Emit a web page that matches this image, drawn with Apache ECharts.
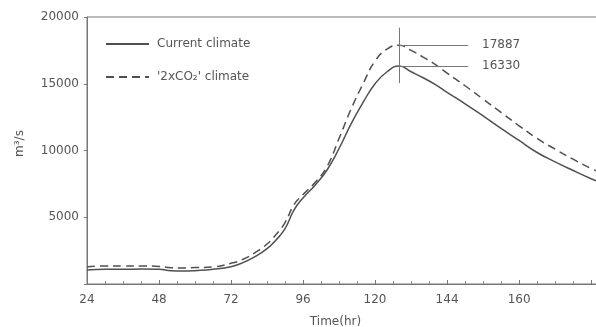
<!DOCTYPE html>
<html>
<head>
<meta charset="utf-8">
<script src="https://cdn.jsdelivr.net/npm/echarts@6/dist/echarts.min.js"></script>
<style>html,body{margin:0;padding:0;background:#fff;}#c{width:596px;height:327px;}</style>
</head>
<body>
<div id="c"></div>
<script>
var hours = [24,30,36,42,48,52,56,60,66,72,76,80,84,87,90,93,96,100,104,108,112,116,120,124,128,132,136,140,144,150,156,162,168,174,180,186,192,194];
var currentClimate = [1050,1100,1100,1120,1100,1000,970,1000,1100,1300,1600,2050,2650,3300,4150,5550,6450,7400,8540,10150,12000,13600,15000,15900,16330,15900,15450,14950,14350,13500,12600,11650,10750,9850,9150,8500,7880,7700];
var doubledCO2 = [1280,1350,1350,1350,1320,1220,1200,1230,1280,1550,1850,2350,3000,3700,4600,5950,6700,7600,8800,10900,13100,15000,16700,17600,17887,17500,17000,16450,15800,14850,13850,12850,11850,10900,10100,9350,8650,8450];
var seriesNames = ['Current climate', "'2xCO\u2082' climate"];
var xTickValues = [24,48,72,96,120,144,168];
var xTickLabels = ['24','48','72','96','120','144','160'];
var yTickValues = [5000,10000,15000,20000];
var peakHour = 128;
var peakCurrent = 16330;
var peakDoubled = 17887;
var annotEndHour = 151;
var annotTop = 19200, annotBottom = 15050;

function pairs(xs, ys){ return xs.map(function(x,i){ return [x, ys[i]]; }); }

var ink = '#505050';
var txt = '#555';
var font = 'DejaVu Sans';

var chart = echarts.init(document.getElementById('c'), null, {renderer:'canvas'});
chart.setOption({
  backgroundColor: '#fff',
  animation: false,
  grid: {left: 87, right: -2, top: 17, bottom: 43, containLabel: false, outerBoundsMode: 'none',
    show: true, borderColor: '#777', borderWidth: 1, backgroundColor: 'transparent'},
  legend: {
    orient: 'vertical', left: 100, top: 33, itemWidth: 43, itemHeight: 12, itemGap: 21,
    itemStyle: {opacity: 0},
    textStyle: {color: txt, fontFamily: font, fontSize: 12, padding: [0,0,0,3]},
    data: seriesNames
  },
  xAxis: {
    type: 'value', min: 24, max: 194.3, interval: 24,
    name: 'Time(hr)', nameLocation: 'middle', nameGap: 32,
    nameTextStyle: {color: txt, fontFamily: font, fontSize: 12, padding: [0,0,0,-14]},
    axisLine: {lineStyle: {color: '#777', width: 1}},
    axisTick: {inside: true, length: 4, lineStyle: {color: '#777'}},
    minorTick: {show: true, splitNumber: 4, length: 3, lineStyle: {color: '#888'}},
    splitLine: {show: false},
    axisLabel: {color: txt, fontFamily: font, fontSize: 12, margin: 10, showMaxLabel: false,
      formatter: function(v){ var i = xTickValues.indexOf(v); return i >= 0 ? xTickLabels[i] : ''; }}
  },
  yAxis: {
    type: 'value', min: 0, max: 20000, interval: 5000,
    name: 'm\u00b3/s', nameLocation: 'middle', nameGap: 61, nameRotate: 90,
    nameTextStyle: {color: txt, fontFamily: font, fontSize: 12, padding: [0,0,0,14]},
    axisLine: {show: true, lineStyle: {color: '#777', width: 1}},
    axisTick: {show: true, length: 3, lineStyle: {color: '#777'}},
    splitLine: {show: false},
    axisLabel: {color: txt, fontFamily: font, fontSize: 12, margin: 8,
      formatter: function(v){ return yTickValues.indexOf(v) >= 0 ? String(v) : ''; }}
  },
  series: [
    {
      name: seriesNames[0], type: 'line', data: pairs(hours, currentClimate),
      symbol: 'none', smooth: 0.5,
      lineStyle: {color: ink, width: 1.5, type: 'solid'}, itemStyle: {color: ink},
      markLine: {
        silent: true, symbol: ['none','none'],
        lineStyle: {color: '#777', width: 1, type: 'solid'},
        label: {show: true, position: 'end', distance: 14, color: txt, fontFamily: font, fontSize: 12,
          formatter: function(p){ return p.data.labelText || ''; }},
        data: [
          [{coord: [peakHour, annotTop]}, {coord: [peakHour, annotBottom], labelText: ''}],
          [{coord: [peakHour, peakDoubled], labelText: String(peakDoubled)}, {coord: [annotEndHour, peakDoubled]}],
          [{coord: [peakHour, peakCurrent], labelText: String(peakCurrent)}, {coord: [annotEndHour, peakCurrent]}]
        ]
      }
    },
    {
      name: seriesNames[1], type: 'line', data: pairs(hours, doubledCO2),
      symbol: 'none', smooth: 0.5,
      lineStyle: {color: ink, width: 1.5, type: [8,5]}, itemStyle: {color: ink}
    }
  ]
});
</script>
</body>
</html>
